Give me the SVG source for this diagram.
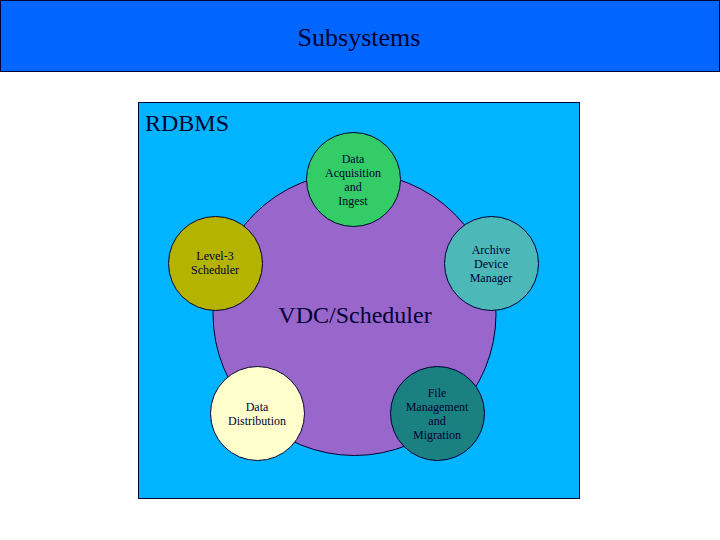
<svg xmlns="http://www.w3.org/2000/svg" width="720" height="540" viewBox="0 0 720 540">
<style>
text{font-family:"Liberation Serif","Times New Roman",serif;fill:#000033;text-anchor:middle}
.s{font-size:12px}
.n{stroke:#000033;stroke-width:1}
</style>
<rect x="0" y="0" width="720" height="540" fill="#ffffff"/>
<g id="header">
<rect x="0.5" y="0.5" width="719" height="71" fill="#0066FF" stroke="#000033" stroke-width="1"/>
<text x="359" y="46" style="font-size:26px">Subsystems</text>
</g>
<g id="rdbms">
<rect x="138.5" y="102.5" width="441" height="396" fill="#00B4FF" stroke="#000033" stroke-width="1"/>
<text x="145" y="131" style="font-size:24px;text-anchor:start">RDBMS</text>
</g>
<g id="connectors"></g>
<g id="vdc">
<circle class="n" cx="354.5" cy="314" r="141.5" fill="#9966CC"/>
<text x="355" y="323" style="font-size:24px">VDC/Scheduler</text>
</g>
<g id="acq">
<circle class="n" cx="353.5" cy="179.5" r="47" fill="#33CC66"/>
<text class="s" x="353" y="163">Data</text>
<text class="s" x="353" y="177">Acquisition</text>
<text class="s" x="353" y="191">and</text>
<text class="s" x="353" y="205">Ingest</text>
</g>
<g id="level3">
<circle class="n" cx="215.5" cy="263.5" r="47" fill="#B3B300"/>
<text class="s" x="215" y="260">Level-3</text>
<text class="s" x="215" y="274">Scheduler</text>
</g>
<g id="archive">
<circle class="n" cx="491.5" cy="263.5" r="47" fill="#4DB8B8"/>
<text class="s" x="491" y="254">Archive</text>
<text class="s" x="491" y="268">Device</text>
<text class="s" x="491" y="282">Manager</text>
</g>
<g id="dist">
<circle class="n" cx="257.5" cy="413.5" r="47" fill="#FFFFCC"/>
<text class="s" x="257" y="411">Data</text>
<text class="s" x="257" y="425">Distribution</text>
</g>
<g id="file">
<circle class="n" cx="437.5" cy="413.5" r="47" fill="#1A8080"/>
<text class="s" x="437" y="397">File</text>
<text class="s" x="437" y="411">Management</text>
<text class="s" x="437" y="425">and</text>
<text class="s" x="437" y="439">Migration</text>
</g>
</svg>
